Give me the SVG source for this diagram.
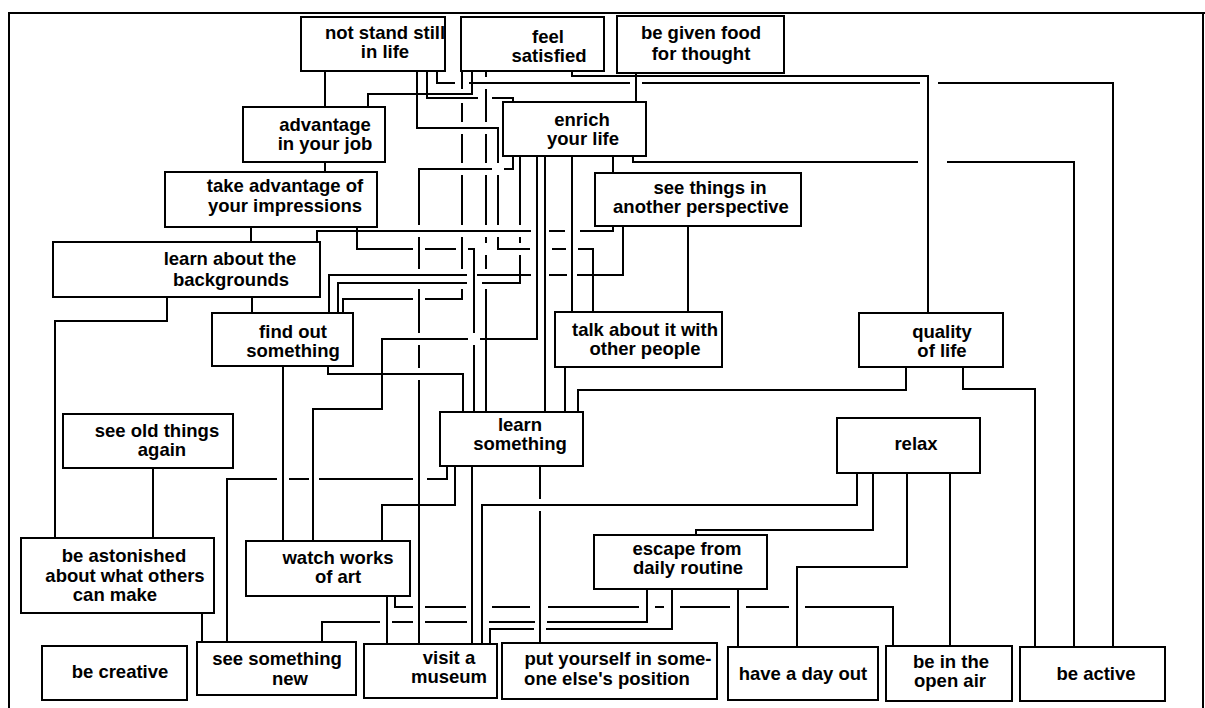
<svg xmlns="http://www.w3.org/2000/svg" width="1205" height="708" viewBox="0 0 1205 708">
<style>
.frame{fill:none;stroke:#000;stroke-width:2}
.n rect{fill:#fff;stroke:#000;stroke-width:2}
.n text{font-family:"Liberation Sans",Arial,sans-serif;font-weight:bold;font-size:18.5px;text-anchor:middle;fill:#000}
.c path{fill:none;stroke:#000;stroke-width:2}
</style>
<rect width="1205" height="708" fill="#fff"/>
<path class="frame" d="M9,708 V13 H1205 M1203,13 V708"/>
<g id="connectors" class="c">
<path d="M325,71 V107"/>
<path d="M325,162 V172"/>
<path d="M472,71 V94 H368 V107"/>
<path d="M427,71 V98 H478 M492,98 H513 V102"/>
<path d="M636,73 V102"/>
<path d="M437,71 V83 H455 M469,83 H630 M642,83 H920 M938,83 H1113 V647"/>
<path d="M572,71 V76 H928 V313"/>
<path d="M633,156 V162 H918 M947,162 H1074 V647"/>
<path d="M963,367 V389 H1035 V647"/>
<path d="M906,367 V390 H578 V412"/>
<path d="M251,227 V242"/>
<path d="M613,226 V231 H580 M565,231 H549 M531,231 H317 V242"/>
<path d="M357,227 V249 H413 M425,249 H456 M468,249 H474 V333 M474,345 V412"/>
<path d="M417,71 V128 H498 V163 M498,175 V225 M498,237 V249 H530 M552,249 H566 M578,249 H593 V312"/>
<path d="M520,156 V225 M520,237 V243 M520,255 V283 H482 M467,283 H338 V313"/>
<path d="M623,226 V275 H577 M567,275 H549 M531,275 H477 M467,275 H329 V313"/>
<path d="M462,71 V89 M462,103 V122 M462,134 V163 M462,175 V225 M462,237 V269 M462,289 V299 H425 M413,299 H343 V313"/>
<path d="M486,71 V77 M486,89 V122 M486,134 V163 M486,175 V225 M486,237 V243 M486,255 V269 M486,289 V412"/>
<path d="M513,156 V169 H504 M492,169 H419 V225 M419,237 V269 M419,289 V333 M419,345 V368 M419,380 V644"/>
<path d="M537,156 V339 H480 M468,339 H382 V409 H313 V541"/>
<path d="M545,156 V412"/>
<path d="M572,156 V312"/>
<path d="M688,226 V312"/>
<path d="M565,367 V412"/>
<path d="M328,366 V374 H463 V412"/>
<path d="M252,297 V313"/>
<path d="M167,297 V321 H55 V538"/>
<path d="M153,468 V538"/>
<path d="M202,613 V642"/>
<path d="M283,366 V541"/>
<path d="M447,466 V479 H427 M413,479 H319 M309,479 H289 M277,479 H227 V642"/>
<path d="M455,466 V505 H382 V541"/>
<path d="M472,466 V644"/>
<path d="M857,473 V505 H482 V644"/>
<path d="M540,466 V499 M540,511 V643"/>
<path d="M672,589 V629 H546 M534,629 H490 V644"/>
<path d="M647,589 V622 H547 M535,622 H489 M467,622 H425 M413,622 H392 M380,622 H322 V642"/>
<path d="M395,596 V607 H413 M425,607 H466 M492,607 H530 M548,607 H639 M655,607 H664 M680,607 H730 M746,607 H789 M805,607 H893 V646"/>
<path d="M387,596 V644"/>
<path d="M873,473 V530 H696 V535"/>
<path d="M738,589 V647"/>
<path d="M907,473 V567 H797 V647"/>
<path d="M950,473 V646"/>
<path d="M613,156 V173"/>
</g>
<g id="n1" class="n"><rect x="301" y="17" width="144" height="54"/><text x="385" y="39">not stand still</text><text x="385" y="58">in life</text></g>
<g id="n2" class="n"><rect x="461" y="17" width="143" height="54"/><text x="548" y="43">feel</text><text x="549" y="62">satisfied</text></g>
<g id="n3" class="n"><rect x="617" y="16" width="167" height="57"/><text x="701" y="39">be given food</text><text x="701" y="60">for thought</text></g>
<g id="n4" class="n"><rect x="243" y="107" width="142" height="55"/><text x="325" y="131">advantage</text><text x="325" y="150">in your job</text></g>
<g id="n5" class="n"><rect x="165" y="172" width="212" height="55"/><text x="285" y="192">take advantage of</text><text x="285" y="212">your impressions</text></g>
<g id="n6" class="n"><rect x="503" y="102" width="143" height="54"/><text x="582" y="126">enrich</text><text x="583" y="145">your life</text></g>
<g id="n7" class="n"><rect x="595" y="173" width="206" height="53"/><text x="710" y="194">see things in</text><text x="701" y="213">another perspective</text></g>
<g id="n8" class="n"><rect x="53" y="242" width="267" height="55"/><text x="230" y="265">learn about the</text><text x="231" y="286">backgrounds</text></g>
<g id="n9" class="n"><rect x="212" y="313" width="141" height="53"/><text x="293" y="338">find out</text><text x="293" y="357">something</text></g>
<g id="n10" class="n"><rect x="555" y="312" width="167" height="55"/><text x="645" y="336">talk about it with</text><text x="645" y="355">other people</text></g>
<g id="n11" class="n"><rect x="859" y="313" width="144" height="54"/><text x="942" y="338">quality</text><text x="942" y="357">of life</text></g>
<g id="n12" class="n"><rect x="63" y="414" width="170" height="54"/><text x="157" y="437">see old things</text><text x="162" y="456">again</text></g>
<g id="n13" class="n"><rect x="440" y="412" width="143" height="54"/><text x="520" y="431">learn</text><text x="520" y="450">something</text></g>
<g id="n14" class="n"><rect x="837" y="418" width="143" height="55"/><text x="916" y="450">relax</text></g>
<g id="n15" class="n"><rect x="21" y="538" width="193" height="75"/><text x="124" y="562">be astonished</text><text x="125" y="582">about what others</text><text x="115" y="601">can make</text></g>
<g id="n16" class="n"><rect x="246" y="541" width="164" height="55"/><text x="338" y="564">watch works</text><text x="338" y="583">of art</text></g>
<g id="n17" class="n"><rect x="594" y="535" width="173" height="54"/><text x="687" y="555">escape from</text><text x="688" y="574">daily routine</text></g>
<g id="n18" class="n"><rect x="42" y="646" width="145" height="54"/><text x="120" y="678">be creative</text></g>
<g id="n19" class="n"><rect x="197" y="642" width="159" height="53"/><text x="277" y="665">see something</text><text x="290" y="685">new</text></g>
<g id="n20" class="n"><rect x="364" y="644" width="133" height="54"/><text x="449" y="664">visit a</text><text x="449" y="683">museum</text></g>
<g id="n21" class="n"><rect x="502" y="643" width="215" height="56"/><text x="618" y="665">put yourself in some-</text><text x="607" y="685">one else's position</text></g>
<g id="n22" class="n"><rect x="728" y="647" width="150" height="53"/><text x="803" y="680">have a day out</text></g>
<g id="n23" class="n"><rect x="886" y="646" width="126" height="55"/><text x="951" y="668">be in the</text><text x="950" y="687">open air</text></g>
<g id="n24" class="n"><rect x="1020" y="647" width="145" height="54"/><text x="1096" y="680">be active</text></g>
</svg>
